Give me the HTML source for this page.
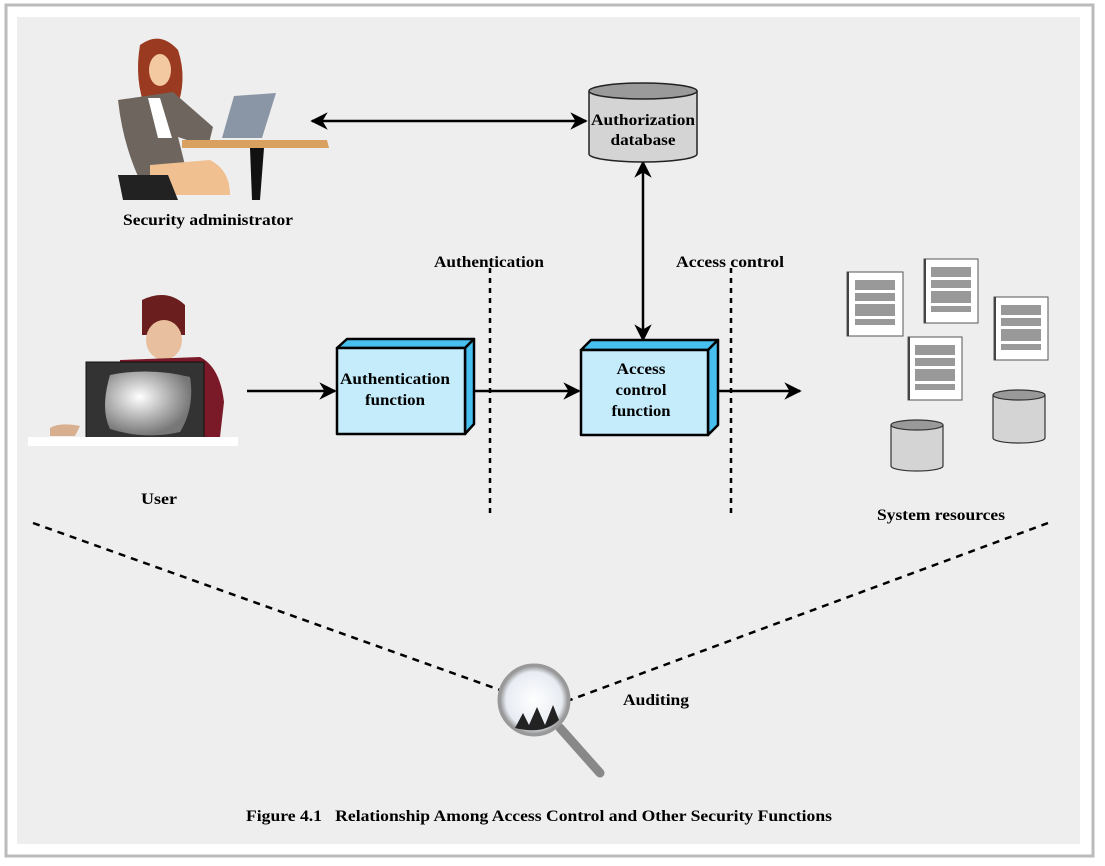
<!DOCTYPE html>
<html><head><meta charset="utf-8"><style>
html,body{margin:0;padding:0;background:#fff;}
svg{display:block;font-family:"Liberation Serif",serif;font-weight:bold;}
</style></head><body>
<svg width="1105" height="866" viewBox="0 0 1105 866" xmlns="http://www.w3.org/2000/svg">
<defs>
<marker id="a" viewBox="0 0 10 10" refX="9" refY="5" markerWidth="7" markerHeight="7" orient="auto-start-reverse"><path d="M0,0 L10,5 L0,10 L3,5 z" fill="#000"/></marker>
<radialGradient id="scr" cx="0.4" cy="0.4" r="0.6"><stop offset="0" stop-color="#fff"/><stop offset="1" stop-color="#777"/></radialGradient>
<radialGradient id="lens" cx="0.5" cy="0.5" r="0.5"><stop offset="0" stop-color="#fff"/><stop offset="0.8" stop-color="#e8ecf2"/><stop offset="1" stop-color="#888"/></radialGradient>
</defs>
<rect x="0" y="0" width="1105" height="866" fill="#fff"/>
<rect x="6" y="5" width="1087" height="851" fill="none" stroke="#bbb" stroke-width="3"/>
<rect x="17" y="17" width="1063" height="827" fill="#eeeeee"/>

<!-- admin -->
<g>
<path d="M140,45 q20,-15 38,5 q10,30 -2,60 l-30,0 q-12,-30 -6,-65z" fill="#9a3a20"/>
<ellipse cx="160" cy="70" rx="11" ry="16" fill="#f2c9a0"/>
<path d="M118,100 l55,-8 l40,35 l-5,20 l-30,-10 l10,40 l-45,10 q-20,-40 -25,-87z" fill="#6e665e"/>
<path d="M148,98 l12,0 l12,40 l-14,0z" fill="#fff"/>
<path d="M150,165 l60,-5 q20,10 20,35 l-80,0z" fill="#f0c090"/>
<path d="M118,175 l50,0 l10,25 l-55,0z" fill="#222"/>
<path d="M222,138 l12,-42 l42,-3 l-14,45z" fill="#8a96a5"/>
<path d="M182,140 l145,0 l2,8 l-147,0z" fill="#d9a060"/>
<path d="M250,148 l14,0 l-4,52 l-8,0z" fill="#111"/>
</g>
<text x="208" y="225" font-size="16" text-anchor="middle" textLength="170" lengthAdjust="spacingAndGlyphs">Security administrator</text>

<!-- user -->
<g>
<path d="M142,300 q25,-12 43,5 l0,30 l-43,0z" fill="#6a1e1e"/>
<ellipse cx="164" cy="340" rx="18" ry="20" fill="#e8c0a0"/>
<path d="M120,360 l80,-3 q20,10 24,45 l-4,35 l-100,0z" fill="#7a1a28"/>
<rect x="86" y="362" width="118" height="76" fill="#333" stroke="#111"/>
<path d="M110,375 q40,-8 80,2 q5,30 -10,55 q-35,8 -70,-3 q-10,-20 0,-54z" fill="url(#scr)"/>
<path d="M50,428 q10,-6 30,-2 l-5,10 l-25,0z" fill="#d8b090"/>
<rect x="28" y="437" width="210" height="9" fill="#fff"/>
</g>
<text x="159" y="504" font-size="16" text-anchor="middle" textLength="36" lengthAdjust="spacingAndGlyphs">User</text>

<!-- arrows -->
<line x1="312" y1="121" x2="586" y2="121" stroke="#000" stroke-width="2.5" marker-start="url(#a)" marker-end="url(#a)"/>
<line x1="643" y1="162" x2="643" y2="340" stroke="#000" stroke-width="2.5" marker-start="url(#a)" marker-end="url(#a)"/>
<line x1="247" y1="391" x2="335" y2="391" stroke="#000" stroke-width="2.5" marker-end="url(#a)"/>
<line x1="465" y1="391" x2="579" y2="391" stroke="#000" stroke-width="2.5" marker-end="url(#a)"/>
<line x1="708" y1="391" x2="800" y2="391" stroke="#000" stroke-width="2.5" marker-end="url(#a)"/>

<!-- db -->
<path d="M589,91 L589,154 A54,8 0 0 0 697,154 L697,91" fill="#d4d4d4" stroke="#222" stroke-width="1.5"/>
<ellipse cx="643" cy="91" rx="54" ry="8" fill="#9a9a9a" stroke="#222" stroke-width="1.5"/>
<text x="643" y="125" font-size="16" text-anchor="middle" textLength="104" lengthAdjust="spacingAndGlyphs">Authorization</text>
<text x="643" y="145" font-size="16" text-anchor="middle" textLength="65" lengthAdjust="spacingAndGlyphs">database</text>

<!-- dotted vertical -->
<line x1="490" y1="268" x2="490" y2="518" stroke="#000" stroke-width="2.5" stroke-dasharray="5,5"/>
<line x1="731" y1="268" x2="731" y2="518" stroke="#000" stroke-width="2.5" stroke-dasharray="5,5"/>
<text x="489" y="267" font-size="16" text-anchor="middle" textLength="110" lengthAdjust="spacingAndGlyphs">Authentication</text>
<text x="730" y="267" font-size="16" text-anchor="middle" textLength="108" lengthAdjust="spacingAndGlyphs">Access control</text>

<!-- boxes -->
<g stroke="#000" stroke-width="2.5" stroke-linejoin="round">
<path d="M337,348 l10,-9 l127,0 l-9,9z" fill="#47c0ef"/>
<path d="M465,348 l9,-9 l0,85 l-9,10z" fill="#47c0ef"/>
<rect x="337" y="348" width="128" height="86" fill="#c4ecfb"/>
<path d="M581,350 l10,-10 l127,0 l-10,10z" fill="#47c0ef"/>
<path d="M708,350 l10,-10 l0,85 l-10,10z" fill="#47c0ef"/>
<rect x="581" y="350" width="127" height="85" fill="#c4ecfb"/>
</g>
<text x="395" y="384" font-size="16" text-anchor="middle" textLength="110" lengthAdjust="spacingAndGlyphs">Authentication</text>
<text x="395" y="405" font-size="16" text-anchor="middle" textLength="60" lengthAdjust="spacingAndGlyphs">function</text>
<text x="641" y="374" font-size="16" text-anchor="middle" textLength="49" lengthAdjust="spacingAndGlyphs">Access</text>
<text x="641" y="395" font-size="16" text-anchor="middle" textLength="51" lengthAdjust="spacingAndGlyphs">control</text>
<text x="641" y="416" font-size="16" text-anchor="middle" textLength="59" lengthAdjust="spacingAndGlyphs">function</text>

<!-- resources docs -->
<g>
<g transform="translate(847,272)"><rect width="56" height="64" fill="#fff" stroke="#555"/><rect width="2" height="64" fill="#444"/><g fill="#999"><rect x="8" y="8" width="40" height="10"/><rect x="8" y="21" width="40" height="8"/><rect x="8" y="32" width="40" height="12"/><rect x="8" y="47" width="40" height="6"/></g></g>
<g transform="translate(924,259)"><rect width="54" height="64" fill="#fff" stroke="#555"/><rect width="2" height="64" fill="#444"/><g fill="#999"><rect x="7" y="8" width="40" height="10"/><rect x="7" y="21" width="40" height="8"/><rect x="7" y="32" width="40" height="12"/><rect x="7" y="47" width="40" height="6"/></g></g>
<g transform="translate(994,297)"><rect width="54" height="63" fill="#fff" stroke="#555"/><rect width="2" height="63" fill="#444"/><g fill="#999"><rect x="7" y="8" width="40" height="10"/><rect x="7" y="21" width="40" height="8"/><rect x="7" y="32" width="40" height="12"/><rect x="7" y="47" width="40" height="6"/></g></g>
<g transform="translate(908,337)"><rect width="54" height="63" fill="#fff" stroke="#555"/><rect width="2" height="63" fill="#444"/><g fill="#999"><rect x="7" y="8" width="40" height="10"/><rect x="7" y="21" width="40" height="8"/><rect x="7" y="32" width="40" height="12"/><rect x="7" y="47" width="40" height="6"/></g></g>
<path d="M891,425 L891,466 A26,5 0 0 0 943,466 L943,425" fill="#d4d4d4" stroke="#333" stroke-width="1.2"/>
<ellipse cx="917" cy="425" rx="26" ry="5" fill="#999" stroke="#333" stroke-width="1.2"/>
<path d="M993,395 L993,438 A26,5 0 0 0 1045,438 L1045,395" fill="#d4d4d4" stroke="#333" stroke-width="1.2"/>
<ellipse cx="1019" cy="395" rx="26" ry="5" fill="#999" stroke="#333" stroke-width="1.2"/>
</g>
<text x="941" y="520" font-size="16" text-anchor="middle" textLength="128" lengthAdjust="spacingAndGlyphs">System resources</text>

<!-- auditing -->
<line x1="33" y1="523" x2="500" y2="690" stroke="#000" stroke-width="2.5" stroke-dasharray="7,6"/>
<line x1="1048" y1="523" x2="570" y2="700" stroke="#000" stroke-width="2.5" stroke-dasharray="7,6"/>
<line x1="560" y1="728" x2="600" y2="773" stroke="#888" stroke-width="9" stroke-linecap="round"/>
<circle cx="534" cy="700" r="35" fill="url(#lens)" stroke="#999" stroke-width="3"/>
<path d="M515,728 l8,-15 l6,12 l8,-18 l8,18 l8,-20 l6,15 q-15,15 -44,8z" fill="#222"/>
<text x="656" y="705" font-size="16" text-anchor="middle" textLength="66" lengthAdjust="spacingAndGlyphs">Auditing</text>

<text x="539" y="821" font-size="16" text-anchor="middle" textLength="586" lengthAdjust="spacingAndGlyphs">Figure 4.1&#160;&#160;&#160;Relationship Among Access Control and Other Security Functions</text>
</svg>
</body></html>
